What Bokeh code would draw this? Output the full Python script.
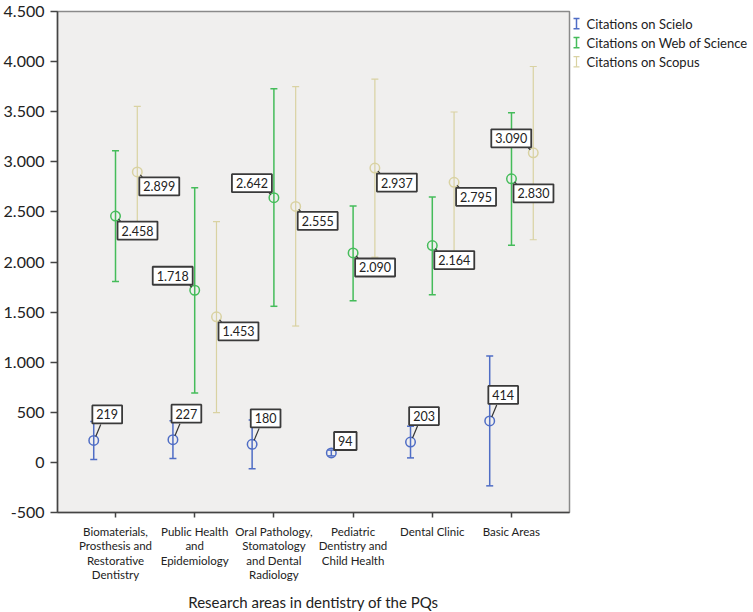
from bokeh.plotting import figure
from bokeh.models import Range1d, FixedTicker, ColumnDataSource
from bokeh.layouts import row
from bokeh.embed import file_html
from bokeh.resources import INLINE
from bokeh.core.properties import value

# ---------------- data ----------------
categories = [
    "Biomaterials,\nProsthesis and\nRestorative\nDentistry",
    "Public Health\nand\nEpidemiology",
    "Oral Pathology,\nStomatology\nand Dental\nRadiology",
    "Pediatric\nDentistry and\nChild Health",
    "Dental Clinic",
    "Basic Areas",
]
series_names = ["Citations on Scielo", "Citations on Web of Science", "Citations on Scopus"]

scielo_mean = [219, 227, 180, 94, 203, 414]
scielo_low = [30, 39, -63, 65, 45, -234]
scielo_high = [408, 415, 423, 123, 361, 1062]

wos_mean = [2458, 1718, 2642, 2090, 2164, 2830]
wos_low = [1805, 693, 1558, 1613, 1673, 2166]
wos_high = [3110, 2741, 3728, 2560, 2649, 3490]

scopus_mean = [2899, 1453, 2555, 2937, 2795, 3090]
scopus_low = [2245, 496, 1361, 2048, 2093, 2222]
scopus_high = [3553, 2403, 3750, 3826, 3497, 3951]

y_ticks = [-500, 0, 500, 1000, 1500, 2000, 2500, 3000, 3500, 4000, 4500]
y_tick_labels = ["-500", "0", "500", "1.000", "1.500", "2.000", "2.500",
                 "3.000", "3.500", "4.000", "4.500"]
x_title = "Research areas in dentistry of the PQs"

# ---------------- styles / layout ----------------
colors = ["#4F6DC5", "#45BC5A", "#D9D2A2"]
widths = [1.5, 1.5, 1.2]
x_shift = [-0.275, 0.0, 0.275]
# label placement per series and category
placements = [
    ["ur", "ur", "ur", "r", "ur", "ur"],
    ["dr", "ul", "ul", "dr", "dr", "dr"],
    ["dr", "dr", "dr", "dr", "dr", "ul"],
]
# box centre offsets (px, screen: +x right, +y down)
box_off = {"ur": (13.5, -26), "r": (14, -12), "dr": (22, 14.5), "ul": (-22, -14.5)}
# leader line (start, end) offsets, screen px
lead_off = {"ur": ((2, -4), (7, -16)), "r": ((3, -3), (7, -6)),
            "dr": ((3, 3), (5, 5)), "ul": ((-3, -3), (-5, -5))}

FONT = "Lato"
TOP = 11
FW, FH = 512, 512 - TOP
X0, X1 = -0.7325, 5.7325
Y0, Y1 = -500, 4500
px_x = FW / (X1 - X0)
px_y = FH / (Y1 - Y0)

p = figure(frame_width=FW, frame_height=FH,
           x_range=Range1d(X0, X1), y_range=Range1d(Y0, Y1),
           output_backend="svg", toolbar_location=None,
           min_border_left=56, min_border_right=2, min_border_top=TOP,
           min_border_bottom=612 - 512,
           background_fill_color="#F0EFEE", border_fill_color="white",
           outline_line_color="#8A8A8A", outline_line_width=1.5)
p.grid.visible = False

p.xaxis.ticker = FixedTicker(ticks=list(range(len(categories))))
p.xaxis.major_label_overrides = {i: c for i, c in enumerate(categories)}
p.xaxis.major_label_text_font = FONT
p.xaxis.major_label_text_font_size = "11.5px"
p.xaxis.major_label_text_line_height = 1.12
p.xaxis.major_label_text_color = "#222222"
p.xaxis.major_label_standoff = 7
p.xaxis.axis_label = x_title
p.xaxis.axis_label_text_font = FONT
p.xaxis.axis_label_text_font_size = "15px"
p.xaxis.axis_label_text_font_style = "normal"
p.xaxis.axis_label_text_color = "#222222"
p.xaxis.axis_label_standoff = 9

p.yaxis.ticker = FixedTicker(ticks=y_ticks)
p.yaxis.major_label_overrides = dict(zip(y_ticks, y_tick_labels))
p.yaxis.major_label_text_font = FONT
p.yaxis.major_label_text_font_size = "16px"
p.yaxis.major_label_text_color = "#222222"
p.yaxis.major_label_standoff = 6

for ax, tout in ((p.xaxis, 5), (p.yaxis, 7)):
    ax.axis_line_color = "#444444"
    ax.axis_line_width = 1.5
    ax.major_tick_line_color = "#444444"
    ax.major_tick_line_width = 1.5
    ax.major_tick_in = 0
    ax.major_tick_out = tout
    ax.minor_tick_line_color = None

series = [
    (scielo_mean, scielo_low, scielo_high),
    (wos_mean, wos_low, wos_high),
    (scopus_mean, scopus_low, scopus_high),
]

lab = dict(x=[], y=[], t=[], xo=[], yo=[])
lead = dict(x0=[], y0=[], x1=[], y1=[])

for k in (2, 1, 0):
    mean, low, high = series[k]
    xs = [i + x_shift[k] for i in range(len(categories))]
    c, w = colors[k], widths[k]
    p.segment(x0=xs, y0=low, x1=xs, y1=high, line_color=c, line_width=w)
    p.scatter(x=xs, y=low, marker="dash", size=7, line_color=c, line_width=w)
    p.scatter(x=xs, y=high, marker="dash", size=7, line_color=c, line_width=w)
    p.scatter(x=xs, y=mean, marker="circle", size=9.5, fill_color=None,
              line_color=c, line_width=1.5)
    for i, (xv, yv) in enumerate(zip(xs, mean)):
        pl = placements[k][i]
        bx, by = box_off[pl]
        lab["x"].append(xv)
        lab["y"].append(yv)
        lab["t"].append(f"{yv:,}".replace(",", "."))
        lab["xo"].append(bx)
        lab["yo"].append(by)
        (sx0, sy0), (sx1, sy1) = lead_off[pl]
        lead["x0"].append(xv + sx0 / px_x)
        lead["y0"].append(yv - sy0 / px_y)
        lead["x1"].append(xv + sx1 / px_x)
        lead["y1"].append(yv - sy1 / px_y)

p.segment(x0="x0", y0="y0", x1="x1", y1="y1", source=ColumnDataSource(lead),
          line_color="#333333", line_width=1.2)
p.text(x="x", y="y", text="t", x_offset="xo", y_offset="yo",
       source=ColumnDataSource(lab), text_align="center", text_baseline="middle",
       text_font=value(FONT), text_font_size="12.5px", text_color="#222222",
       background_fill_color="white", border_line_color="#3A3A3A",
       border_line_width=1.8, padding=4)

# ---------------- legend panel ----------------
LW, LH = 753 - 572, 612
leg = figure(width=LW, height=LH, x_range=Range1d(0, LW), y_range=Range1d(LH, 0),
             x_axis_location=None, y_axis_location=None, toolbar_location=None,
             output_backend="svg", min_border=0, outline_line_color=None,
             background_fill_color="white", border_fill_color="white")
leg.grid.visible = False
for k, name in enumerate(series_names):
    cy = 15 + 23.3 * k
    leg.segment(x0=[5], y0=[cy - 6.3], x1=[5], y1=[cy + 6.3],
                line_color=colors[k], line_width=widths[k])
    leg.scatter(x=[5, 5], y=[cy - 6.3, cy + 6.3], marker="dash", size=6,
                line_color=colors[k], line_width=widths[k])
    leg.text(x=[15], y=[cy], text=[name], text_align="left", text_baseline="middle",
             text_font=value(FONT), text_font_size="13px", text_color="#222222")

layout = row(p, leg)
open("out.html", "w").write(file_html(layout, INLINE))
